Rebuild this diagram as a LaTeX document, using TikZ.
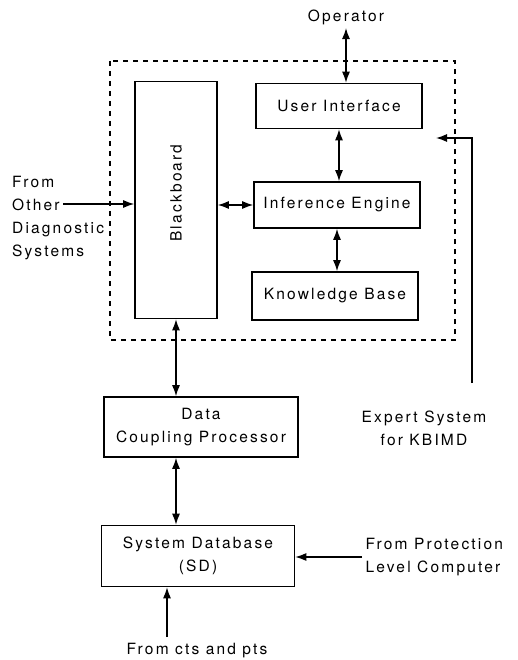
\documentclass[tikz,border=0pt]{standalone}
\usepackage{fontspec}
\setmainfont[LetterSpace=14]{TeX Gyre Heros}
\usetikzlibrary{calc,arrows.meta}
\tikzstyle{blk}=[draw,line width=1.6pt,minimum width=166pt,minimum height=45pt,inner sep=0pt]
\tikzstyle{twoway}=[line width=1.3pt,{Latex[length=11pt,width=8pt]}-{Latex[length=11pt,width=8pt]}]
\tikzstyle{oneway}=[line width=1.3pt,-{Latex[length=11pt,width=8pt]}]

\begin{document}
\begin{tikzpicture}[x=1pt,y=-1pt,font=\fontsize{15.5}{23}\selectfont]
	\useasboundingbox (0,0) rectangle (517,660);
	\draw[line width=1.4pt,dash pattern=on 5pt off 5pt] (110,61) rectangle (455,340);

	\node[blk] (ui) at (339,106) {User Interface};
	\node[blk,minimum height=46pt] (ie) at (337,205) {Inference Engine};
	\node[blk,minimum height=48pt] (kb) at (335,296) {Knowledge Base};
	\node[blk,minimum width=82pt,minimum height=237pt] (bb) at (176,200) {};
	\node[rotate=90] at ([yshift=7pt]bb.center) {Blackboard};
	\node[blk,minimum width=194pt,minimum height=60pt,align=center] (dcp) at (201,427) {Data\\Coupling Processor};
	\node[blk,minimum width=193pt,minimum height=61pt,align=center] (sd) at (198,556) {System Database\\(SD)};

	\node (op) at (346,17) {Operator};
	\node[anchor=north west,inner sep=0pt,align=left] (other) at (12,176) {From\\Other\\Diagnostic\\Systems};
	\node[align=center] (es) at (424,428) {Expert System\\for KBIMD};
	\node[anchor=west,align=left] (pl) at (362,557) {From Protection\\Level Computer};
	\node (cts) at (197,651) {From cts and pts};

	\coordinate (src) at (63,204);
	\coordinate (ctsin) at (167,637);
	\coordinate (es1) at (472,383);
	\coordinate (es2) at (472,138);
	\coordinate (es3) at (436,138);

	\draw[twoway] (op.south) -- (op.south |- ui.north);
	\draw[twoway] (ui.south) -- (ui.south |- ie.north);
	\draw[twoway] (ie.south) -- (ie.south |- kb.north);
	\draw[twoway] (bb.east |- ie.west) -- (ie.west);
	\draw[oneway] (src) -- (src -| bb.west);
	\draw[twoway] (bb.south) -- (bb.south |- dcp.north);
	\draw[twoway] (bb.south |- dcp.south) -- (bb.south |- sd.north);
	\draw[oneway] (ctsin) -- (ctsin |- sd.south);
	\draw[oneway] (pl.west) -- (pl.west -| sd.east);
	\draw[oneway] (es1) -- (es2) -- (es3);
\end{tikzpicture}
\end{document}
